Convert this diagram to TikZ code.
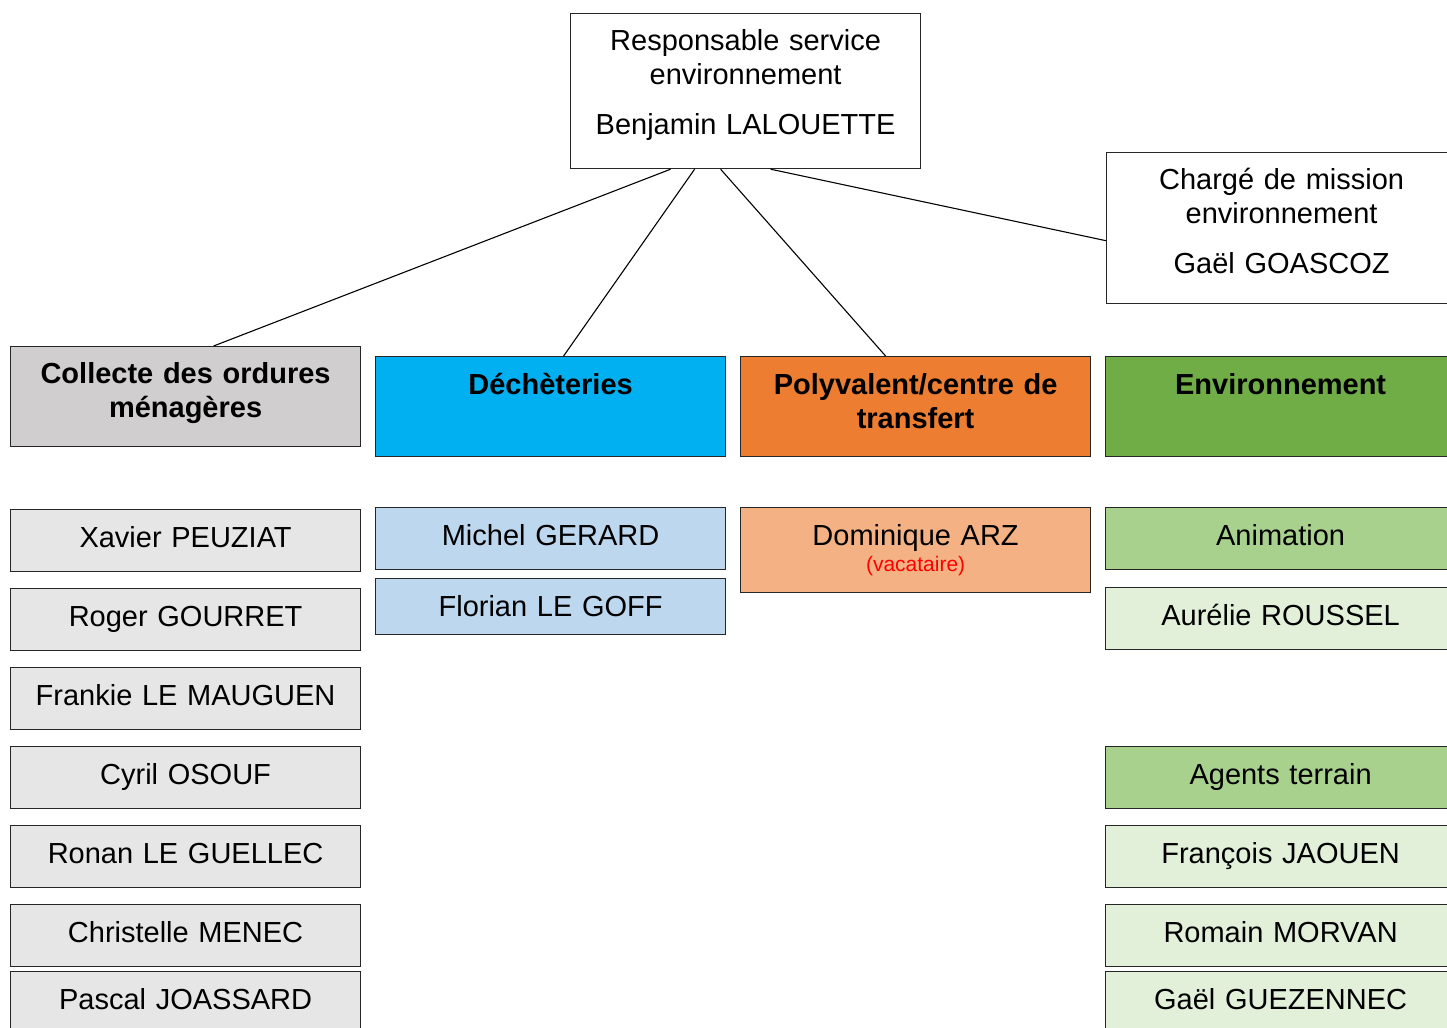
\documentclass[tikz,border=0pt]{standalone}
\usepackage{fontspec}
\setmainfont{Liberation Sans}
\definecolor{grisfonce}{HTML}{D0CECE}
\definecolor{gris}{HTML}{E7E6E6}
\definecolor{bleu}{HTML}{00B0F0}
\definecolor{bleuclair}{HTML}{BDD7EE}
\definecolor{orange}{HTML}{ED7D31}
\definecolor{orangeclair}{HTML}{F4B183}
\definecolor{vert}{HTML}{70AD47}
\definecolor{vertmoyen}{HTML}{A9D18E}
\definecolor{vertclair}{HTML}{E2F0D9}
\begin{document}
\begin{tikzpicture}[x=0.5pt,y=-0.5pt,
	box/.style={draw=black!85,line width=0.6pt,inner sep=0pt,anchor=north west,text width=175pt,align=center,font=\fontsize{14.5}{16.75}\selectfont},
	chef/.style={box,fill=white,text height=18.5pt},
	entete/.style={box,font=\fontsize{14.5}{17}\selectfont\bfseries,text height=18.75pt,text depth=31.25pt},
	agent/.style={box,text height=19pt,text depth=11.85pt},
	trait/.style={draw=black,line width=0.55pt}]
	\useasboundingbox (0,0) rectangle (1447,1028);
	\clip (0,0) rectangle (1447,1028);
	% direction
	\node[chef,text depth=59pt] (boss) at (570,13) {Responsable service\\environnement\\[8.25pt]Benjamin LALOUETTE};
	\node[chef,text depth=57.1pt] (charge) at (1106,152) {Chargé de mission\\environnement\\[8.25pt]Gaël GOASCOZ};
	% services
	\node[entete,fill=grisfonce,text height=18.25pt,text depth=31.75pt] (collecte) at (10,346) {Collecte des ordures\\ménagères};
	\node[entete,fill=bleu]		(decheterie)	at (375,356)	{Déchèteries};
	\node[entete,fill=orange]	(polyvalent)	at (740,356)	{Polyvalent/centre de\\transfert};
	\node[entete,fill=vert]		(environnement)	at (1105,356)	{Environnement};
	% liens
	\draw[trait] ([xshift=-37.5pt]boss.south) -- ([xshift=14pt]collecte.north);
	\draw[trait] ([xshift=-25.5pt]boss.south) -- ([xshift=6.5pt]decheterie.north);
	\draw[trait] ([xshift=-12.5pt]boss.south) -- ([xshift=-15pt]polyvalent.north);
	\draw[trait] ([xshift=12.5pt]boss.south) -- ([yshift=-6.25pt]charge.west);
	% agents
	\foreach \nom/\y [count=\i] in {Xavier PEUZIAT/509,Roger GOURRET/588,Frankie LE MAUGUEN/667,Cyril OSOUF/746,Ronan LE GUELLEC/825,Christelle MENEC/904,Pascal JOASSARD/971}
		\node[agent,fill=gris] (collecte\i) at (10,\y) {\nom};
	\node[agent,fill=bleuclair]				(michel)	at (375,507)	{Michel GERARD};
	\node[agent,fill=bleuclair,text depth=9pt]	(florian)	at (375,578)	{Florian LE GOFF};
	\node[agent,fill=orangeclair,text height=18.75pt,text depth=23.75pt] (dominique) at (740,507)
		{Dominique ARZ\\[-3.75pt]{\color{red}\fontsize{10.5}{13}\selectfont(vacataire)}};
	\node[agent,fill=vertmoyen]	(animation)	at (1105,507)	{Animation};
	\node[agent,fill=vertclair]	(aurelie)	at (1105,587)	{Aurélie ROUSSEL};
	\node[agent,fill=vertmoyen]	(terrain)	at (1105,746)	{Agents terrain};
	\node[agent,fill=vertclair]	(francois)	at (1105,825)	{François JAOUEN};
	\node[agent,fill=vertclair]	(romain)	at (1105,904)	{Romain MORVAN};
	\node[agent,fill=vertclair]	(gael)		at (1105,971)	{Gaël GUEZENNEC};
\end{tikzpicture}
\end{document}
